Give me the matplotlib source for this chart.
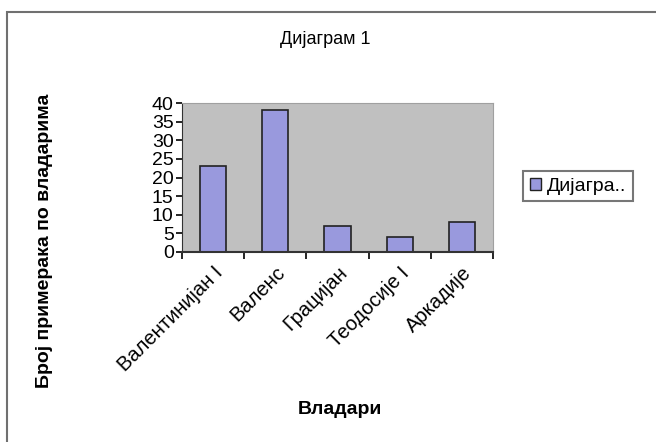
import matplotlib
matplotlib.use("Agg")
import matplotlib.pyplot as plt
from matplotlib.patches import Rectangle, Patch

categories = ["Валентинијан I", "Валенс", "Грацијан", "Теодосије I", "Аркадије"]
values = [23, 38, 7, 4, 8]
yticks = [0, 5, 10, 15, 20, 25, 30, 35, 40]
title = "Дијаграм 1"
xlabel = "Владари"
ylabel = "Број примерака по владарима"
legend_label = "Дијагра.."

plt.rcParams['font.family'] = ['Liberation Sans', 'DejaVu Sans']

W, H = 656, 442
fig = plt.figure(figsize=(W / 100, H / 100), dpi=100)
fig.patch.set_facecolor('white')

# outer chart border
fig.patches.append(Rectangle((7 / W, -0.01), 1.0, 1 - 12 / H + 0.01, transform=fig.transFigure,
                             fill=False, edgecolor='#707070', linewidth=1.5))

ax = fig.add_axes([182 / W, 1 - 252 / H, (493 - 182) / W, (252 - 103) / H])
ax.set_facecolor('#C0C0C0')
x = list(range(len(categories)))
ax.bar(x, values, width=0.42, color='#9999DD', edgecolor='#222222', linewidth=1.2)
ax.set_xlim(-0.5, len(categories) - 0.5)
ax.set_ylim(0, 40)
ax.set_yticks(yticks)
ax.set_yticklabels([str(v) for v in yticks], fontsize=14)
ax.set_xticks(x)
ax.set_xticklabels(categories, rotation=45, ha='right', rotation_mode='anchor', fontsize=14.5)
ax.set_xticks([i - 0.5 for i in range(len(categories) + 1)], minor=True)
ax.tick_params(axis='x', which='major', length=0, pad=8)
ax.tick_params(axis='x', which='minor', length=5, direction='out', width=1.2)
ax.tick_params(axis='y', length=4, direction='out', width=1.2, pad=2)
for s in ['top', 'right']:
    ax.spines[s].set_color('#A0A0A0')
ax.spines['left'].set_color('#333333')
ax.spines['bottom'].set_color('#333333')
ax.spines['bottom'].set_linewidth(1.5)

fig.text(325 / W, 1 - 40 / H, title, ha='center', va='center', fontsize=13)
fig.text(340 / W, 1 - 410 / H, xlabel, ha='center', va='center', fontsize=14, fontweight='bold')
fig.text(45 / W, 1 - 241 / H, ylabel, ha='center', va='center', rotation=90, fontsize=14,
         fontweight='bold')

leg = fig.legend(handles=[Patch(facecolor='#9999DD', edgecolor='#222222', label=legend_label)],
                 loc='upper left', bbox_to_anchor=(513 / W, 1 - 161 / H), frameon=True,
                 fancybox=False, edgecolor='#555555', fontsize=14, handlelength=0.6,
                 handleheight=0.6, handletextpad=0.3, borderpad=0.35)
leg.get_frame().set_linewidth(1.5)

fig.savefig('out.png', dpi=100)
